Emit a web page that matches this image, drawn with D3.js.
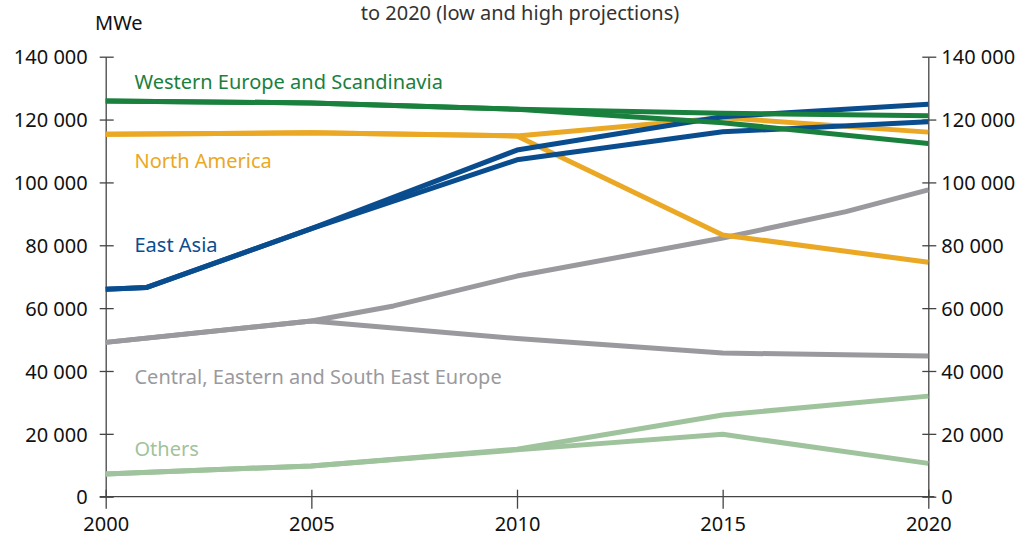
<!DOCTYPE html>
<html>
<head>
<meta charset="utf-8">
<script src="https://cdn.jsdelivr.net/npm/d3@7"></script>
<style>
  html, body { margin: 0; padding: 0; background: #fff; }
  svg { display: block; font-family: "Noto Sans", "DejaVu Sans", sans-serif; }
</style>
</head>
<body>
<svg id="chart" width="1020" height="536"></svg>
<script>
// ---- Data ----
const years = [2000, 2005, 2010, 2015, 2020];
const eastAsiaYears = [2000, 2001, 2005, 2010, 2015, 2020];
const centralHighYears = [2000, 2005, 2007, 2010, 2015, 2018, 2020];

const westernEuropeLow  = [125900, 125300, 123300, 119000, 112400];
const westernEuropeHigh = [125900, 125300, 123300, 122000, 121200];
const northAmericaLow   = [115300, 115800, 114800, 83300, 74600];
const northAmericaHigh  = [115300, 115800, 114800, 120600, 116000];
const eastAsiaLow       = [66000, 66600, 85300, 107200, 116100, 119300];
const eastAsiaHigh      = [66000, 66600, 85300, 110300, 120900, 124900];
const centralEuropeLow  = [49100, 55900, 50300, 45700, 44800];
const centralEuropeHigh = [49100, 55900, 60700, 70200, 82300, 90700, 97600];
const othersLow         = [7200, 9800, 14900, 19850, 10600];
const othersHigh        = [7200, 9800, 15100, 26000, 32000];

const yTicks = [0, 20000, 40000, 60000, 80000, 100000, 120000, 140000];
const xTicks = [2000, 2005, 2010, 2015, 2020];

const titleText = "to 2020 (low and high projections)";
const unitText = "MWe";

const regions = [
  { name: "Others", color: "#9fc39c", series: [[years, othersLow], [years, othersHigh]], labelYear: 2000.7, labelValue: 12800 },
  { name: "Central, Eastern and South East Europe", color: "#9a9a9e", series: [[years, centralEuropeLow], [centralHighYears, centralEuropeHigh]], labelYear: 2000.7, labelValue: 36000 },
  { name: "North America", color: "#eaa825", series: [[years, northAmericaLow], [years, northAmericaHigh]], labelYear: 2000.7, labelValue: 104700 },
  { name: "East Asia", color: "#0a4d8f", series: [[eastAsiaYears, eastAsiaLow], [eastAsiaYears, eastAsiaHigh]], labelYear: 2000.7, labelValue: 77900 },
  { name: "Western Europe and Scandinavia", color: "#1a803d", series: [[years, westernEuropeLow], [years, westernEuropeHigh]], labelYear: 2000.7, labelValue: 129700 }
];

// ---- Layout ----
const svg = d3.select("#chart");
const xLeft = 105.7, xRight = 928.3, yBottom = 496.7, yTop = 56.7;

const x = d3.scaleLinear().domain([2000, 2020]).range([xLeft, xRight]);
const y = d3.scaleLinear().domain([0, 140000]).range([yBottom, yTop]);

const locale = d3.formatLocale({ decimal: ".", thousands: " ", grouping: [3], currency: ["", ""] });
const fmt = locale.format(",");

// title (second line of a title mostly above the frame)
svg.append("text")
  .attr("x", 520).attr("y", 20)
  .attr("text-anchor", "middle")
  .attr("font-size", 20)
  .attr("fill", "#333")
  .text(titleText);

svg.append("text")
  .attr("x", 95).attr("y", 30)
  .attr("font-size", 20)
  .attr("fill", "#111")
  .text(unitText);

// axes
const axisColor = "#444";
const yLeft = d3.axisLeft(y).tickValues(yTicks).tickFormat(fmt).tickSizeInner(6).tickSizeOuter(0).tickPadding(12);
const yRightAx = d3.axisRight(y).tickValues(yTicks).tickFormat(fmt).tickSizeInner(6).tickSizeOuter(0).tickPadding(7);
const xAx = d3.axisBottom(x).tickValues(xTicks).tickFormat(d3.format("d")).tickSizeInner(12).tickSizeOuter(0).tickPadding(8);

function styleAxis(g, size) {
  g.select(".domain").attr("stroke", axisColor).attr("stroke-width", 1.3);
  g.selectAll(".tick line").attr("stroke", axisColor).attr("stroke-width", 1.3);
  g.selectAll(".tick text").attr("font-size", size).attr("fill", "#111").attr("font-family", "\"Noto Sans\", sans-serif");
}

const gl = svg.append("g").attr("transform", `translate(${xLeft},0)`).call(yLeft);
styleAxis(gl, 20);
gl.selectAll(".tick line").attr("x1", 8).attr("x2", -6);
gl.selectAll(".tick text").attr("dy", "0.36em");

const gr = svg.append("g").attr("transform", `translate(${xRight},0)`).call(yRightAx);
styleAxis(gr, 20);
gr.selectAll(".tick line").attr("x1", -6).attr("x2", 8);
gr.selectAll(".tick text").attr("dy", "0.36em");

const gx = svg.append("g").attr("transform", `translate(0,${yBottom})`).call(xAx);
styleAxis(gx, 20);
gx.selectAll(".tick line").attr("y1", -7).attr("y2", 12);
gx.select(".domain").attr("d", `M${xLeft - 6},0H${xRight + 6}`);
gx.selectAll(".tick text").attr("dy", "0.71em");

// lines
const line = d3.line().curve(d3.curveLinear);
const gLines = svg.append("g");
regions.forEach(r => {
  r.series.forEach(([xs, vals]) => {
    const pts = vals.map((v, i) => [x(xs[i]), y(v)]);
    gLines.append("path")
      .attr("d", line(pts))
      .attr("fill", "none")
      .attr("stroke", r.color)
      .attr("stroke-width", 5)
      .attr("stroke-linejoin", "round");
  });
  svg.append("text")
    .attr("x", x(r.labelYear))
    .attr("y", y(r.labelValue))
    .attr("font-size", 20)
    .attr("fill", r.color)
    .text(r.name);
});
</script>
</body>
</html>
